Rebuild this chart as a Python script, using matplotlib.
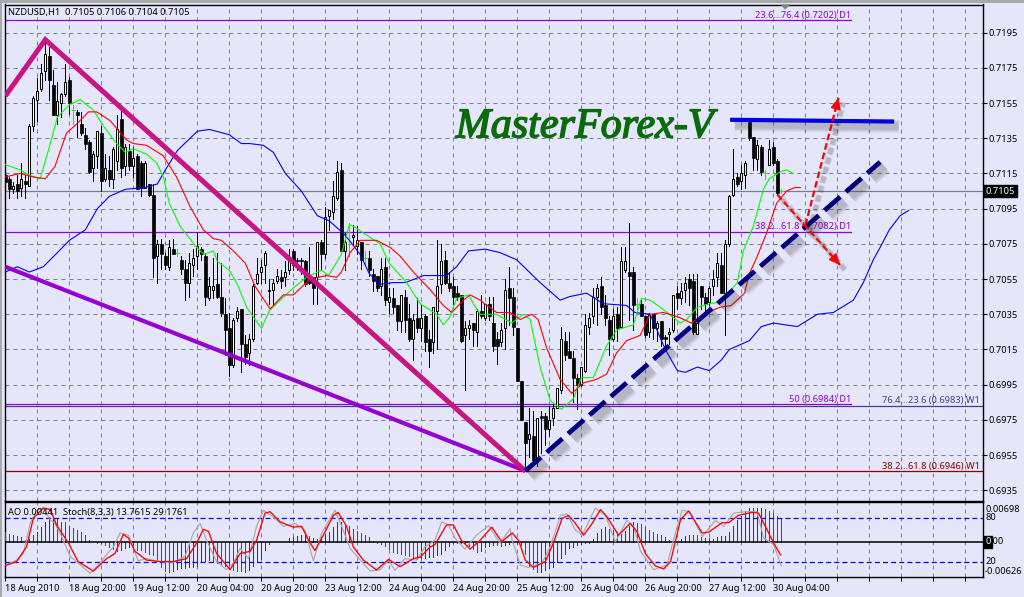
import numpy as np
import matplotlib
matplotlib.use('Agg')
import matplotlib.pyplot as plt
import matplotlib.patheffects as pe
from matplotlib.patches import Rectangle, Polygon

W, H = 1024, 597
BG = '#e6e6fa'
GRID = '#708090'
plt.rcParams['font.family'] = ['Noto Sans', 'DejaVu Sans']
FS = 6.7

# prices, in units of 0.0001
highs = [7120,7113,7110,7114,7121,7114,7143,7159,7169,7177,7189,7187,7174,7167,7161,7177,7170,7154,7151,7150,
         7141,7134,7128,7139,7142,7126,7125,7130,7148,7154,7132,7132,7130,7126,7122,7122,7109,7109,7077,7078,
         7070,7077,7078,7072,7068,7066,7070,7072,7082,7073,7070,7056,7067,7070,7064,7044,7036,7033,7039,7038,
         7023,7024,7052,7067,7066,7071,7055,7055,7061,7060,7065,7072,7072,7067,7067,7066,7073,7056,7076,7077,
         7096,7094,7111,7122,7121,7081,7087,7086,7085,7076,7071,7071,7061,7057,7067,7067,7050,7050,7040,7046,
         7049,7041,7035,7044,7040,7035,7026,7039,7077,7075,7071,7059,7056,7051,7046,7031,7032,7030,7038,7046,
         7041,7045,7045,7025,7030,7055,7062,7050,7027,6997,6974,6982,6980,6976,6980,6979,6983,6984,6993,7028,
         7025,7025,7014,7001,7005,7035,7036,7050,7052,7056,7046,7034,7038,7039,7073,7073,7087,7062,7044,7043,
         7034,7036,7035,7031,7031,7023,7027,7046,7051,7053,7056,7058,7058,7058,7051,7047,7051,7060,7070,7070,
         7077,7103,7129,7115,7120,7122,7144,7136,7134,7131,7117,7134,7133,7123,7106]
opens = [7114,7112,7106,7109,7107,7111,7108,7142,7157,7163,7173,7182,7165,7148,7155,7160,7168,7151,7150,7143,
         7137,7133,7118,7125,7138,7112,7117,7112,7122,7146,7119,7128,7119,7125,7121,7107,7109,7103,7068,7075,
         7068,7062,7072,7070,7066,7061,7053,7063,7068,7072,7068,7044,7049,7052,7045,7035,7027,7006,7033,7038,
         7018,7013,7021,7053,7059,7063,7048,7049,7054,7056,7056,7060,7071,7066,7066,7065,7055,7056,7056,7076,
         7069,7091,7093,7101,7117,7071,7075,7079,7074,7076,7067,7067,7058,7057,7051,7062,7042,7044,7040,7031,
         7045,7033,7021,7033,7027,7034,7021,7019,7037,7052,7066,7053,7051,7047,7046,7023,7027,7030,7025,7037,
         7033,7041,7030,7021,7019,7027,7050,7045,7027,6997,6974,6964,6966,6951,6977,6977,6970,6976,6982,6992,
         7020,7014,7010,6999,6995,7003,7028,7034,7045,7051,7040,7032,7021,7035,7028,7060,7059,7059,7041,7041,
         7034,7025,7035,7027,7031,7022,7024,7026,7047,7044,7049,7055,7054,7024,7051,7045,7042,7051,7056,7063,
         7047,7075,7103,7113,7111,7114,7144,7136,7123,7130,7115,7120,7130,7122,7105]
closes = [7110,7106,7108,7105,7112,7109,7142,7158,7162,7172,7183,7168,7148,7156,7160,7167,7155,7151,7148,7138,
          7132,7116,7126,7139,7111,7118,7112,7129,7140,7118,7130,7119,7124,7106,7107,7121,7103,7067,7075,7069,
          7063,7073,7069,7070,7061,7053,7064,7067,7074,7069,7045,7051,7051,7045,7036,7026,7006,7032,7037,7018,
          7011,7021,7051,7058,7062,7070,7049,7053,7057,7054,7059,7066,7063,7065,7065,7052,7053,7050,7076,7069,
          7090,7094,7102,7116,7071,7076,7075,7080,7077,7066,7067,7060,7054,7050,7061,7043,7045,7039,7031,7046,
          7032,7021,7032,7027,7033,7019,7014,7039,7051,7065,7053,7050,7045,7045,7020,7027,7029,7026,7037,7034,
          7041,7034,7017,7017,7026,7049,7044,7028,6997,6975,6962,6967,6952,6976,6976,6970,6975,6982,6993,7021,
          7012,7010,6999,6995,7005,7029,7033,7045,7050,7039,7033,7021,7034,7027,7065,7065,7057,7040,7041,7034,
          7023,7035,7027,7030,7021,7021,7025,7046,7044,7048,7053,7050,7025,7030,7045,7041,7050,7055,7064,7047,
          7075,7102,7112,7109,7115,7121,7135,7124,7131,7116,7115,7129,7121,7104,7105]
lows = [7109,7101,7104,7101,7102,7101,7108,7139,7145,7162,7168,7157,7148,7143,7147,7159,7149,7143,7136,7137,
        7129,7115,7111,7118,7105,7111,7108,7107,7117,7113,7114,7117,7113,7106,7102,7107,7102,7056,7053,7061,
        7061,7060,7069,7068,7058,7043,7045,7057,7061,7066,7040,7043,7044,7044,7034,7012,7000,7005,7031,7002,
        7007,7006,7020,7052,7053,7053,7041,7041,7053,7050,7051,7058,7060,7060,7058,7051,7052,7041,7041,7061,
        7067,7083,7089,7100,7071,7060,7068,7075,7069,7061,7063,7057,7048,7048,7046,7040,7036,7036,7026,7025,
        7025,7020,7009,7025,7020,7014,7005,7013,7015,7047,7052,7048,7041,7043,7019,6992,7021,7017,7017,7033,
        7032,7032,7014,7007,7017,7015,7029,7023,6997,6975,6947,6954,6951,6949,6956,6961,6966,6972,6982,6990,
        7009,7010,6985,6981,6994,7002,7024,7030,7029,7035,7029,7012,7020,7020,7028,7059,7032,7026,7035,7034,
        7022,7022,7021,7020,7017,7015,7018,7025,7038,7041,7042,7040,7024,7024,7038,7037,7040,7046,7051,7047,
        7023,7074,7102,7108,7106,7107,7134,7117,7117,7114,7112,7120,7120,7103,7104]

# moving averages, bar number and value
blue_x = [0,3,6,9.5,13,16,20,23,26,30,35,38,40,43,48,51,56,59,61,64.5,67,70,74,78,81,84.5,86,88.7,91,93.7,97,100,104.5,
          110.3,112.8,115.8,120,123.7,127.8,133.7,138.7,141,145.3,149.5,155.3,157.4,161.2,165,168,170,173,176,179,181,
          186,189,192,198,203,207,212,214.5,217,218.7,221,223.7,225.8]
blue_y = [7059,7062,7059,7062,7070,7077,7083,7095,7102,7106,7107,7109,7117,7128,7139,7140,7137,7132,7132,7131,7127,7115,
          7105,7091,7088,7081,7077,7069,7058,7052,7053,7053,7057,7057,7062,7071,7072,7070,7066,7053,7043,7045,7047,7041,
          7040,7036,7035,7015,7003,7002,7005,7003,7009,7015,7020,7028,7030,7028,7035,7036,7043,7053,7066,7073,7083,7091,7094]
green_x = [0,3.7,6,8.7,11,13,16,18.7,22,24.5,27.8,30,32,35.3,37.8,39.5,41,43.7,47.8,49.7,52,53,56,58,60.3,64,66,68.7,72,
           75.3,79,80.8,84,86,87,90.3,93.7,96,100.3,103.7,107.8,109.5,111,112.8,115.8,117,118.7,122.8,126.6,129.5,131.2,
           133.7,136.2,139,142,144,147,150.3,152.8,157,159,161.2,163.7,166,168.7,170.3,173,176,179,181.5,183,184.5,187,
           189.5,191,193.7,195.3,197]
green_y = [7120,7117,7114,7112,7130,7147,7154,7157,7151,7142,7132,7127,7129,7126,7121,7113,7098,7085,7073,7069,7071,7065,
           7060,7052,7039,7027,7037,7043,7050,7056,7060,7057,7069,7086,7085,7080,7075,7064,7053,7041,7035,7029,7033,7044,
           7046,7041,7035,7035,7030,7035,7032,7005,6986,6981,6987,6999,6999,7017,7026,7029,7044,7043,7039,7035,7030,7032,
           7039,7041,7042,7049,7053,7071,7085,7106,7112,7116,7117,7115]
red_x = [0,3.7,7,10,12.4,15.3,17.8,20.8,22.8,26.2,30.3,32,35.3,39.5,42.8,46.2,49.5,52,54,57,60,62.4,66.2,69.5,72,76.2,80.3,
         82.8,84,86.2,88.7,92.8,96.2,98.7,102,106.2,109.5,111.6,114.5,116.2,118.7,122.8,126.2,128.7,131.6,133.2,135.3,
         138.7,141.6,144.5,147.8,150.3,152.8,155.3,158.7,161.2,164.5,166,168.7,171.5,174.5,178.7,181.5,184.8,186,187.8,
         190.3,192.8,195.3,197.4,198.8]
red_y = [7113,7115,7113,7112,7119,7138,7143,7150,7150,7145,7134,7132,7131,7125,7113,7096,7083,7078,7077,7071,7064,7051,7038,
         7046,7046,7055,7057,7056,7059,7070,7077,7077,7073,7068,7059,7049,7040,7036,7043,7046,7043,7036,7036,7032,7035,7032,
         7016,6998,6990,6996,6998,7001,7013,7020,7023,7035,7036,7035,7033,7030,7035,7039,7040,7047,7058,7067,7081,7098,7105,
         7107,7107]

# AO, in units of 0.0001
ao = [21,17,15,12,10,5,7,15,22,32,41,53,55,47,42,41,34,30,25,21,14,4,1,-1,-2,-5,-10,-14,-17,-15,-12,-9,-13,-15,-16,-19,-23,
      -26,-34,-50,-58,-62,-58,-55,-53,-52,-51.5,-51,-48,-41,-38,-37,-41,-42,-45,-49,-55,-56,-58,-59,-60,-56,-49,-40,-34,-15,
      -3,0,0,0,1,8,10,12,14,14.5,12,9,6,10,17,21,31,41,42,38,34,27,24,19,14,10,3,-1,-3,-8,-14,-19,-21,-24,-27,-29,-33,-34,-33,
      -32,-31,-30,-27,-24,-15,-7,-2,-1,-1,-2,-7,-14,-20,-17,-10,-7,-5,-6,-8,-5,-3,-2,-2.5,-5,-24,-48,-55,-62,-60,-56,-52,-50,
      -41,-33,-24,-12,-9,-5,-3,-2,-1,7,19,27,32,27,25,21,17,24,33,41,40,38,32,26,21,18,14,10,5,2,1,7,12,15,14.5,14,10,9,8,7,10,
      12,13,22,33,45,55,64,70,70.5,70.8,71,68,65,60,55,49]

stoch_x = [0,2.8,5.3,7,9.5,11.2,12.8,15.8,18.2,22,25.3,27.4,29.5,30.8,32.4,35.3,38.7,42,45.3,47.8,49.5,50.8,52.8,56.2,58.7,
           61.2,62.8,64.9,66.2,68.7,72,74.1,75.8,77.4,79.5,82,83.2,85.3,87,89.5,92.8,95.8,98.7,102,103.7,106.2,107.4,110.3,
           112,114,116.2,118.7,121.6,124.1,126.7,128.3,130,132,135,137,139.2,140.8,142.5,144.6,146.7,148.8,150.4,153.3,
           156.2,157.9,160,162.5,164.6,166.3,168.8,170.8,174.2,175.8,179.2,180.8,183.3,186.7,188.3,190,192.1,193.8]
stoch_d = [15.5,21,41,80,94,92,71,46,21,8,25,32,58,53,35,23,21,21,25,46,65,62,32,10,32,35,50,87,89,75,68,69,50,36,57,84,88,69,
           41,23,9.5,24,14,25,27,41,44,71,71,50,38,50,68,48,60,50,23,13,21,46,80,84,73,57,73,92,82,57,73,62,32,15,11,21,78,90,60,
           61,74,74,84,88,87,69,46,30]
stoch_kx = [0,2.8,4.5,6.2,7.8,9.5,11.2,12.4,14.1,16.2,18.2,21.2,23.7,24.9,27,28.7,30.8,33.2,35.3,38.7,42,44.9,47,48.7,50.3,
            52.8,55.3,57,58.7,60.8,62.8,64.5,67,69.5,72.4,74.9,77,79.1,82.4,84.1,86.2,91.2,93.7,95.8,97.4,99.9,102.8,104.9,
            107.4,109.1,110.8,112.4,114.9,117.8,120.8,123.7,126.2,126.7,128.8,130.8,134.2,136.2,138.8,140.4,142.5,144.2,
            147.5,150,152.5,155.4,157.1,158.8,162.1,165.4,167.5,169.2,171.2,174.2,177.5,179.6,182.1,185,187.9,189.6,192.1,194]
stoch_k = [16,23,32,73,91,94,78,73,55,28,19,5,19,28,41,60,57,22,25,21,20,28,60,73,50,21,10,19,39,25,69,91,82,69,73,64,22,60,91,
           69,39,8,10,23,9,25,23,41,50,75,71,53,38,57,70,46,66,50,16,13,19,41,84,86,64,57,94,84,48,77,69,35,10,16,60,91,89,55,77,
           69,87,89,89,53,44,15]

tick_labels = ['18 Aug 2010', '18 Aug 20:00', '19 Aug 12:00', '20 Aug 04:00', '20 Aug 20:00', '23 Aug 12:00',
               '24 Aug 04:00', '24 Aug 20:00', '25 Aug 12:00', '26 Aug 04:00', '26 Aug 20:00', '27 Aug 12:00',
               '30 Aug 04:00']
price_ticks = [0.7195, 0.7175, 0.7155, 0.7135, 0.7115, 0.7095, 0.7075, 0.7055, 0.7035, 0.7015, 0.6995, 0.6975, 0.6955, 0.6935]

# trend lines drawn by hand on the chart: (bar, price)
wedge_upper = ([0, 10, 130], [0.7159, 0.7191, 0.6946])
wedge_lower = ([0, 130], [0.7062, 0.6946])
support = ([130, 218.7], [0.6946, 0.71215])
resistance = ([181.2, 222.2], [0.71455, 0.71445])
arrow_up = ([200, 208.3], [0.70855, 0.7158])
arrow_down = ([193, 208.7], [0.7103, 0.7063])

levels = [(0.7202, '#9400d3', '23.6...76.4 (0.7202) D1', True),
          (0.7082, '#9400d3', '38.2...61.8 (0.7082) D1', True),
          (0.6984, '#9400d3', '50 (0.6984) D1', True),
          (0.6983, '#483d8b', '76.4...23.6 (0.6983) W1', False),
          (0.6946, '#8b0000', '38.2...61.8 (0.6946) W1', False)]


def px_axes(left, top, right, bottom):
    return [left / W, 1 - bottom / H, (right - left) / W, (bottom - top) / H]


def shadow(lw, alpha=0.07):
    # soft grey shadow: a few wide faint copies of the line
    out = []
    for k in [2.2, 1.7, 1.2, 0.7]:
        out.append(pe.SimpleLineShadow(offset=(3.4, -3.4), shadow_color='#303030', alpha=alpha, linewidth=lw * (1 + k)))
    out.append(pe.Normal())
    return out


fig = plt.figure(figsize=(W / 100, H / 100), dpi=100, facecolor=BG)
ax = fig.add_axes(px_axes(4.7, 4.5, 982.7, 501))
ax2 = fig.add_axes(px_axes(4.7, 502.3, 982.7, 577.3))
ax3 = ax2.twinx()

xlim = (-0.16, 244.34)
grid_bars = np.arange(0, 244, 8)
for a in (ax, ax2):
    a.set_facecolor(BG)
    a.set_xlim(xlim)
    a.set_xticks(grid_bars)
    a.grid(True, axis='x', color=GRID, lw=0.72, ls=(0, (4, 4)), zorder=0)
    a.set_axisbelow(True)
    a.tick_params(length=0)
    for s in a.spines.values():
        s.set_linewidth(1.0)
        s.set_color('black')
ax3.set_xlim(xlim)
for s in ax3.spines.values():
    s.set_visible(False)

# price panel
ax.set_ylim(0.69289, 0.7211)
ax.yaxis.tick_right()
ax.set_yticks(price_ticks)
ax.set_yticklabels(['%.4f' % p for p in price_ticks], fontsize=FS, color='black')
ax.tick_params(axis='y', length=3, width=0.8, pad=1.5)
ax.grid(True, axis='y', color=GRID, lw=0.72, ls=(0, (4, 4)), zorder=0)
ax.set_xticklabels([])

ax.axhline(0.7105, color=GRID, lw=0.9, zorder=1)
for val, col, txt, short in levels:
    if short:
        ax.plot([xlim[0], 211.4], [val, val], color=col, lw=0.9, zorder=1)
        ax.text(211.4, val + 0.00002, txt, color=col, fontsize=FS, ha='right', va='bottom', zorder=6)
    else:
        ax.axhline(val, color=col, lw=0.9, zorder=1)
        ax.text(243.6, val + 0.00002, txt, color=col, fontsize=FS, ha='right', va='bottom', zorder=6)

hi = np.array(highs) / 10000
op = np.array(opens) / 10000
cl = np.array(closes) / 10000
lo = np.array(lows) / 10000
bars = np.arange(len(op))
doji = op == cl
ax.vlines(bars[~doji], lo[~doji], hi[~doji], color='black', lw=0.72, zorder=3, antialiased=False)
ax.vlines(bars[doji], lo[doji], hi[doji], color='#00ff00', lw=0.72, zorder=3, antialiased=False)
ax.hlines(op[doji], bars[doji] - 0.3, bars[doji] + 0.3, color='#00ff00', lw=0.72, zorder=3, antialiased=False)
up = cl > op
down = cl < op
ax.bar(bars[up], cl[up] - op[up], bottom=op[up], width=0.5, color='white', edgecolor='black', lw=0.72, zorder=4)
ax.bar(bars[down], op[down] - cl[down], bottom=cl[down], width=0.6, color='black', edgecolor='black', lw=0.5, zorder=4)

ax.plot(blue_x, np.array(blue_y) / 10000, color='#0000ff', lw=0.8, zorder=5)
ax.plot(green_x, np.array(green_y) / 10000, color='#00ff00', lw=0.8, zorder=5)
ax.plot(red_x, np.array(red_y) / 10000, color='#ff0000', lw=0.8, zorder=5)

# trend lines and arrows
ax.plot(*wedge_lower, color='#9400d3', lw=3.0, zorder=7, solid_capstyle='butt')
ax.plot(*wedge_upper, color='#c71585', lw=3.6, zorder=7, solid_capstyle='butt', solid_joinstyle='miter')
ax.plot(*support, color='#000080', lw=3.4, ls=(0, (4.4, 1.6)), zorder=8, path_effects=shadow(3.4))
ax.plot(*resistance, color='#0000e6', lw=3.0, zorder=8, solid_capstyle='butt', path_effects=shadow(3.0))
for ar in (arrow_up, arrow_down):
    ax.plot(ar[0], ar[1], color='#ff0000', lw=1.6, ls=(0, (3, 1.4)), zorder=8, path_effects=shadow(1.6))
    tail = (ar[0][1] - 0.1 * (ar[0][1] - ar[0][0]), ar[1][1] - 0.1 * (ar[1][1] - ar[1][0]))
    ax.annotate('', xy=(ar[0][1], ar[1][1]), xytext=tail, zorder=9,
                arrowprops=dict(arrowstyle='-|>,head_length=0.65,head_width=0.3', color='#ff0000', lw=1.2,
                                shrinkA=0, shrinkB=0))

ax.text(112.6, 0.71356, 'MasterForex-V', family='Liberation Serif', style='italic',
        fontsize=30.3, color='#0a6b0a', ha='left', va='baseline', zorder=6,
        path_effects=[pe.withStroke(linewidth=1.1, foreground='#0a6b0a')])

# oscillators panel
ax2.set_ylim(-0.00719, 0.00822)
ax2.set_yticks([])
labels = [''] * len(grid_bars)
labels[::2] = tick_labels + [''] * (len(labels[::2]) - len(tick_labels))
ax2.set_xticklabels(labels, fontsize=FS, ha='left')
ax2.tick_params(axis='x', length=3, width=0.8, pad=2)
ao_v = np.array(ao) / 10000
ao_col = ['#ff0000' if i == 0 or ao_v[i] <= ao_v[i - 1] else '#006400' for i in range(len(ao_v))]
ax2.vlines(np.arange(len(ao_v)), 0, ao_v, colors=ao_col, lw=0.72, zorder=3, antialiased=False)
ax2.axhline(0, color='black', lw=1.1, zorder=4)

ax3.set_ylim(-0.45, 101.8)
ax3.set_yticks([])
for lev in (80, 20):
    ax3.axhline(lev, color='#0000ff', lw=0.9, ls=(0, (4, 2.5)), zorder=2)
ax3.plot(stoch_kx, stoch_k, color='#a9a9a9', lw=0.85, zorder=3)
ax3.plot(stoch_x, stoch_d, color='#ff0000', lw=0.95, zorder=4)


def ftext(x, y, s, **kw):
    kw.setdefault('fontsize', FS)
    kw.setdefault('color', 'black')
    return fig.text(x / W, 1 - y / H, s, va='center', ha='left', **kw)


ftext(8, 12.5, 'NZDUSD,H1  0.7105 0.7106 0.7104 0.7105')
ftext(8, 512.5, 'AO 0.00441  Stoch(8,3,3) 13.7615 29.1761')
ftext(986, 191, '0.7105', color='white', bbox=dict(facecolor='black', edgecolor='black', pad=1.2))
ftext(985, 509.5, '0.00698')
ftext(985, 518, '80')
ftext(990, 542, '.00')
ftext(985.5, 542, '0', color='white', bbox=dict(facecolor='black', edgecolor='black', pad=0.9))
ftext(985, 561.5, '20')
ftext(985, 571, '-0.00626')

# window frame and the shift marker at the top
fig.add_artist(Rectangle((0, 1 - 3 / H), 1, 3 / H, transform=fig.transFigure, color='#a8a8a8', lw=0))
fig.add_artist(Rectangle((0, 0), 2 / W, 1, transform=fig.transFigure, color='#a8a8a8', lw=0))
fig.add_artist(Polygon([[780 / W, 1 - 4.5 / H], [790.5 / W, 1 - 4.5 / H], [785.2 / W, 1 - 9.5 / H]],
                       transform=fig.transFigure, color='#808080', lw=0))

fig.savefig('out.png', dpi=100, facecolor=BG)
